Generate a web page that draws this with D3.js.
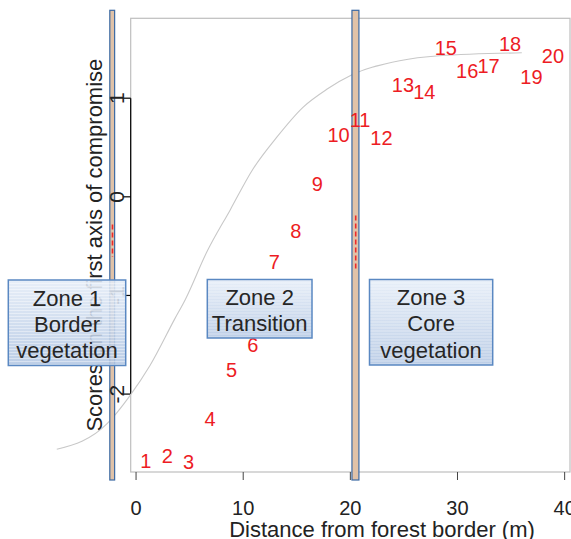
<!DOCTYPE html>
<html>
<head>
<meta charset="utf-8">
<script src="https://cdn.jsdelivr.net/npm/d3@7"></script>
<style>
  body { margin: 0; background: #fff; }
  text { font-family: "Liberation Sans", Arial, sans-serif; }
</style>
</head>
<body>
<div id="chart"></div>
<script>
// Sites along the transect (label, distance, score on first compromise axis)
var siteLabels = ['1','2','3','4','5','6','7','8','9','10','11','12','13','14','15','16','17','18','19','20'];
var siteDist = [1, 3, 5, 7, 9, 11, 13, 15, 17, 19, 21, 23, 25, 27, 29, 31, 33, 35, 37, 39];
var siteScore = [-2.68, -2.63, -2.69, -2.25, -1.75, -1.50, -0.66, -0.34, 0.13, 0.63,
                 0.78, 0.60, 1.14, 1.06, 1.51, 1.28, 1.33, 1.55, 1.22, 1.43];

// smoothed trend
var curveDist = [-7.4, -2.7, -0.6, 1.3, 3.6, 4.6, 6.6, 8.8, 10.9, 13.1, 15.6, 17.8, 20.2, 24.6, 28.3, 36.0];
var curveScore = [-2.56, -2.30, -2.02, -1.71, -1.24, -1.04, -0.56, -0.13, 0.28, 0.60, 0.91, 1.09, 1.24, 1.38, 1.43, 1.46];

// zone boundaries and their red intervals
var boundFrom = [-2.45, 20.15];
var boundTo = [-2.0, 20.8];
var breakDist = [-2.2, 20.5];
var breakLow = [-0.61, -0.74];
var breakHigh = [-0.28, -0.19];

var zoneLines = [['Zone 1', 'Border', 'vegetation'], ['Zone 2', 'Transition'], ['Zone 3', 'Core', 'vegetation']];

var xTicks = [0, 10, 20, 30, 40];
var yTicks = [-2, -1, 0, 1];

var svgWidth = 571;
var svgHeight = 539;

var box = { left: 130.7, right: 570, top: 18.3, bottom: 472 };

var svg = d3.select('#chart')
  .append('svg')
  .attr('width', svgWidth)
  .attr('height', svgHeight);

var x = d3.scaleLinear()
  .domain([-0.5, 40.5])
  .range([box.left, box.right]);

var y = d3.scaleLinear()
  .domain([-2.79, 1.81])
  .range([box.bottom, box.top]);

// gradient + stripes for the zone boxes
var defs = svg.append('defs');
var grad = defs.append('linearGradient')
  .attr('id', 'zoneFill')
  .attr('x1', 0).attr('y1', 0).attr('x2', 0).attr('y2', 1);
grad.append('stop').attr('offset', '0%').attr('stop-color', '#e4ecf7');
grad.append('stop').attr('offset', '100%').attr('stop-color', '#b3c7e3');

var stripes = defs.append('pattern')
  .attr('id', 'zoneStripes')
  .attr('width', 4).attr('height', 3)
  .attr('patternUnits', 'userSpaceOnUse');
stripes.append('rect')
  .attr('width', 4).attr('height', 1)
  .attr('fill', '#ffffff')
  .attr('opacity', 0.4);

// plot box
svg.append('rect')
  .attr('x', box.left)
  .attr('y', box.top)
  .attr('width', box.right - box.left)
  .attr('height', box.bottom - box.top)
  .attr('fill', 'none')
  .attr('stroke', '#bebebe')
  .attr('stroke-width', 1.2);

// x axis ticks + labels
svg.selectAll('.xtick')
  .data(xTicks)
  .enter()
  .append('line')
  .attr('x1', d => x(d)).attr('x2', d => x(d))
  .attr('y1', box.bottom).attr('y2', box.bottom + 8)
  .attr('stroke', '#444')
  .attr('stroke-width', 1);

svg.selectAll('.xlab')
  .data(xTicks)
  .enter()
  .append('text')
  .attr('x', d => x(d))
  .attr('y', 515)
  .attr('text-anchor', 'middle')
  .attr('font-size', 20)
  .attr('fill', '#222')
  .text(d => d);

// y axis: line only over tick range
svg.append('line')
  .attr('x1', box.left).attr('x2', box.left)
  .attr('y1', y(d3.max(yTicks))).attr('y2', y(d3.min(yTicks)))
  .attr('stroke', '#000')
  .attr('stroke-width', 1.2);

svg.selectAll('.ytick')
  .data(yTicks)
  .enter()
  .append('line')
  .attr('x1', box.left - 8).attr('x2', box.left)
  .attr('y1', d => y(d)).attr('y2', d => y(d))
  .attr('stroke', '#000')
  .attr('stroke-width', 1.2);

// axis titles
svg.append('text')
  .attr('x', 382)
  .attr('y', 537)
  .attr('text-anchor', 'middle')
  .attr('font-size', 22)
  .attr('fill', '#222')
  .text('Distance from forest border (m)');

svg.append('text')
  .attr('transform', `translate(101.5, ${(box.top + box.bottom) / 2}) rotate(-90)`)
  .attr('text-anchor', 'middle')
  .attr('font-size', 22)
  .attr('fill', '#222')
  .text('Scores on the first axis of compromise');

// trend curve
var curveData = curveDist.map((d, i) => [d, curveScore[i]]);
svg.append('path')
  .datum(curveData)
  .attr('d', d3.line()
    .x(d => x(d[0]))
    .y(d => y(d[1]))
    .curve(d3.curveMonotoneX))
  .attr('fill', 'none')
  .attr('stroke', '#c8c8c8')
  .attr('stroke-width', 1.1);

// zone boundary bars
svg.selectAll('.bound')
  .data(boundFrom)
  .enter()
  .append('rect')
  .attr('x', (d, i) => x(d))
  .attr('width', (d, i) => x(boundTo[i]) - x(d))
  .attr('y', box.top - 8)
  .attr('height', box.bottom - box.top + 16)
  .attr('fill', '#e0c2a8')
  .attr('stroke', '#3b69a3')
  .attr('stroke-width', 1.2);

// red intervals inside the bars
svg.selectAll('.brk')
  .data(breakDist)
  .enter()
  .append('line')
  .attr('x1', d => x(d)).attr('x2', d => x(d))
  .attr('y1', (d, i) => y(breakHigh[i]))
  .attr('y2', (d, i) => y(breakLow[i]))
  .attr('stroke', '#ee2a2a')
  .attr('stroke-width', 1.6)
  .attr('stroke-dasharray', '5,3');

// y tick labels, drawn over the left bar
svg.selectAll('.ylab')
  .data(yTicks)
  .enter()
  .append('text')
  .attr('transform', d => `translate(124, ${y(d)}) rotate(-90)`)
  .attr('text-anchor', 'middle')
  .attr('font-size', 21)
  .attr('fill', '#222')
  .text(d => d);

// site labels
svg.selectAll('.site')
  .data(siteLabels)
  .enter()
  .append('text')
  .attr('x', (d, i) => x(siteDist[i]) - 1)
  .attr('y', (d, i) => y(siteScore[i]))
  .attr('dy', '0.36em')
  .attr('text-anchor', 'middle')
  .attr('font-size', 20)
  .attr('fill', '#ed1c24')
  .text(d => d);

// zone annotation boxes
var zoneBoxes = [
  { x: 8.3, y: 280, w: 117.4, h: 85.5 },
  { x: 207.3, y: 279.5, w: 104.7, h: 58.5 },
  { x: 369.5, y: 279.5, w: 123.2, h: 85.5 }
];

var zoneGroup = svg.selectAll('.zone')
  .data(zoneLines)
  .enter()
  .append('g')
  .attr('transform', (d, i) => `translate(${zoneBoxes[i].x}, ${zoneBoxes[i].y})`);

zoneGroup.append('rect')
  .attr('width', (d, i) => zoneBoxes[i].w)
  .attr('height', (d, i) => zoneBoxes[i].h)
  .attr('fill', 'url(#zoneFill)')
  .attr('fill-opacity', 0.88);

zoneGroup.append('rect')
  .attr('width', (d, i) => zoneBoxes[i].w)
  .attr('height', (d, i) => zoneBoxes[i].h)
  .attr('fill', 'url(#zoneStripes)')
  .attr('stroke', '#5a88c2')
  .attr('stroke-width', 1.5);

zoneGroup.selectAll('text')
  .data(d => d)
  .enter()
  .append('text')
  .attr('x', function() { return zoneBoxes[zoneLines.indexOf(d3.select(this.parentNode).datum())].w / 2; })
  .attr('y', (d, j) => 25.5 + j * 26.3)
  .attr('text-anchor', 'middle')
  .attr('font-size', 22)
  .attr('fill', '#262626')
  .text(d => d);
</script>
</body>
</html>
